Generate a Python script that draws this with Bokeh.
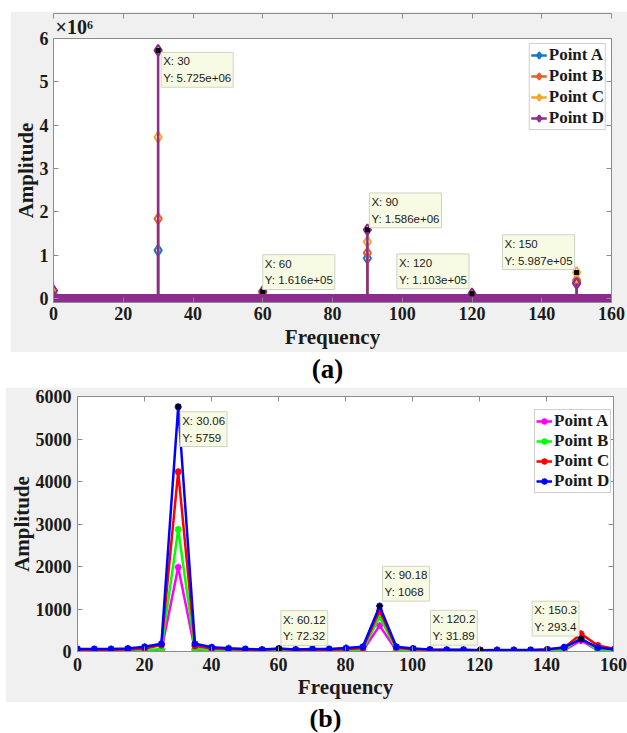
from bokeh.plotting import figure
from bokeh.models import (FixedTicker, LinearAxis, Legend, LegendItem, Label, Title,
                          CustomJSTickFormatter)
from bokeh.layouts import column
from bokeh.core.properties import value
from bokeh.embed import file_html
from bokeh.resources import INLINE

# ---------------- panel (a) data (amplitude in units of 1e6) ----------------
freq_a = [0, 30, 60, 90, 120, 150]
amp_a_A = [0.05, 1.11, 0.07, 0.93, 0.05, 0.37]
amp_a_B = [0.07, 1.84, 0.09, 1.05, 0.07, 0.42]
amp_a_C = [0.10, 3.72, 0.12, 1.31, 0.09, 0.5987]
amp_a_D = [0.18, 5.725, 0.1616, 1.586, 0.1103, 0.35]
band_a_freq = [0, 160]
band_a_amp = [0, 0]
tip_a_freq = [30, 60, 90, 120, 150]
tip_a_amp = [5.725, 0.1616, 1.586, 0.1103, 0.5987]
xticks_a = [0, 20, 40, 60, 80, 100, 120, 140, 160]
yticks_a = [0, 1, 2, 3, 4, 5, 6]

# ---------------- panel (b) data ----------------
freq_b = [0, 5.01, 10.02, 15.03, 20.04, 25.05, 30.06, 35.07, 40.08, 45.09, 50.1,
          55.11, 60.12, 65.13, 70.14, 75.15, 80.16, 85.17, 90.18, 95.19, 100.2,
          105.21, 110.22, 115.23, 120.24, 125.25, 130.26, 135.27, 140.28, 145.29,
          150.3, 155.31, 160.32]
amp_b_A = [10, 10, 10, 12, 15, 30, 1980, 30, 15, 12, 10, 10, 20, 10, 10, 10, 12,
           25, 610, 25, 12, 10, 10, 10, 12, 10, 10, 10, 12, 30, 260, 25, 15]
amp_b_B = [20, 20, 20, 25, 30, 60, 2870, 60, 30, 25, 20, 20, 30, 20, 20, 20, 25,
           40, 820, 50, 25, 20, 20, 20, 20, 20, 20, 20, 25, 40, 330, 20, 20]
amp_b_C = [40, 40, 40, 45, 70, 150, 4230, 130, 70, 55, 45, 40, 60, 40, 40, 40, 55,
           80, 960, 90, 55, 40, 35, 35, 30, 30, 30, 30, 45, 90, 415, 140, 60]
amp_b_D = [60, 60, 60, 70, 110, 180, 5759, 180, 100, 75, 60, 45, 72.32, 45, 60, 60, 80,
           110, 1068, 110, 70, 50, 40, 40, 31.89, 35, 35, 35, 50, 100, 293.4, 90, 50]
tip_b_idx = [6, 12, 18, 24, 30]
xticks_b = [0, 20, 40, 60, 80, 100, 120, 140, 160]
yticks_b = [0, 1000, 2000, 3000, 4000, 5000, 6000]

labels = ["Point A", "Point B", "Point C", "Point D"]
colors_a = ["#1677C4", "#EE5A24", "#F5A623", "#8B2C8E"]
colors_b = ["#FF00FF", "#00FF00", "#FF0000", "#0000FF"]

GRAY_BG = "#F0F0F0"
AXIS_C = "#8c8c8c"
SERIF = "Liberation Serif"
SANS = "Liberation Sans"


def style_axes(p, xticks, yticks, xstand, ystand):
    for ax in p.xaxis:
        ax.ticker = FixedTicker(ticks=xticks)
    for ax in p.yaxis:
        ax.ticker = FixedTicker(ticks=yticks)
    for ax in p.xaxis + p.yaxis:
        ax.axis_line_color = AXIS_C
        ax.major_tick_line_color = AXIS_C
        ax.major_tick_in = 5
        ax.major_tick_out = 0
        ax.minor_tick_line_color = None
        ax.major_label_text_font = SERIF
        ax.major_label_text_font_style = "bold"
        ax.major_label_text_font_size = "18px"
        ax.major_label_text_color = "#1a1a1a"
        ax.axis_label_text_font = SERIF
        ax.axis_label_text_font_style = "bold"
        ax.axis_label_text_font_size = "21px"
        ax.axis_label_text_color = "#1a1a1a"
    p.xaxis.major_label_standoff = xstand
    p.yaxis.major_label_standoff = ystand
    p.xaxis.axis_label = "Frequency"
    p.yaxis.axis_label = "Amplitude"
    p.xgrid.visible = False
    p.ygrid.visible = False
    p.outline_line_color = AXIS_C
    # box axes (top/right): ticks only, no labels
    blank = CustomJSTickFormatter(code="return ''")
    top = LinearAxis(ticker=FixedTicker(ticks=xticks), formatter=blank)
    right = LinearAxis(ticker=FixedTicker(ticks=yticks), formatter=blank)
    for ax in (top, right):
        ax.axis_line_color = AXIS_C
        ax.major_tick_line_color = AXIS_C
        ax.major_tick_in = 5
        ax.major_tick_out = 0
        ax.minor_tick_line_color = None
        ax.major_label_text_font_size = "1px"
        ax.major_label_standoff = 0
    p.add_layout(top, "above")
    p.add_layout(right, "right")
    p.frame_align = False


def tip(p, x, y, text, anchor, xo, yo):
    p.add_layout(Label(x=x, y=y, text=text, anchor=anchor, x_offset=xo, y_offset=yo,
                       text_font=SANS, text_font_size="11.5px", text_color="#1a1a1a",
                       text_line_height=1.4, background_fill_color="#F8FBE4",
                       border_line_color="#cfd2c0", border_line_width=1,
                       padding=(2, 3)))


def legend_for(items, location, margin=5):
    return Legend(items=items, location=location, margin=margin,
                  label_text_font=SERIF, label_text_font_style="bold",
                  label_text_font_size="17px", label_text_color="#1a1a1a",
                  glyph_width=16, glyph_height=18, label_height=18, label_standoff=2,
                  spacing=1, padding=1, border_line_color="#a0a0a0",
                  border_line_width=1, background_fill_color="white",
                  background_fill_alpha=1.0)


# ---------------- panel (a) ----------------
pa = figure(width=617, height=341, x_range=(0, 160), y_range=(-0.0923, 6),
            min_border_left=43, min_border_right=16, min_border_top=27,
            min_border_bottom=50, border_fill_color=GRAY_BG,
            background_fill_color="white", toolbar_location=None,
            output_backend="svg")
pa.margin = (11, 0, 0, 10)
pa.add_layout(Title(text="×10⁶", align="left", offset=2, standoff=1,
                    text_font=SERIF, text_font_size="20px", text_font_style="bold",
                    text_color="#1a1a1a"), "above")
style_axes(pa, xticks_a, yticks_a, 4, 5)
pa.xaxis.axis_label_standoff = 2
pa.yaxis.axis_label_standoff = -1

items_a = []
n_a = len(freq_a)
for lab, col, amps in zip(labels, colors_a, [amp_a_A, amp_a_B, amp_a_C, amp_a_D]):
    if lab == "Point D":
        pa.line(band_a_freq, band_a_amp, line_color=col, line_width=9)
    seg = pa.segment(x0=freq_a, y0=[0] * n_a, x1=freq_a, y1=amps,
                     line_color=col, line_width=2.5)
    sc = pa.scatter(freq_a, amps, marker="diamond", size=11, line_color=col,
                    line_width=2, fill_color="white", fill_alpha=0.0)
    items_a.append(LegendItem(label=lab, renderers=[seg, sc]))

pa.scatter(tip_a_freq, tip_a_amp, marker="square", size=4, color="black")

anchors_a = [("top_left", 3, -2), ("bottom_left", 0, 2), ("bottom_left", 2, 2),
             ("bottom_right", -3, 5), ("bottom_right", -2, 3)]
for f, a, (anc, xo, yo) in zip(tip_a_freq, tip_a_amp, anchors_a):
    tip(pa, f, a, f"X: {f:g}\nY: {a * 1e6:.3e}", anc, xo, yo)

pa.add_layout(legend_for(items_a, "top_right", 5))

# caption (a)
cap_a = figure(width=627, height=35, x_range=(0, 627), y_range=(0, 35),
               x_axis_type=None, y_axis_type=None, min_border=0,
               outline_line_color=None, toolbar_location=None, output_backend="svg")
cap_a.xgrid.visible = False
cap_a.ygrid.visible = False
cap_a.frame_align = False
cap_a.text(x=[327], y=[19], text=["(a)"], text_font=value(SERIF),
           text_font_style="bold", text_font_size="27px", text_align="center",
           text_baseline="middle", text_color="black")

# ---------------- panel (b) ----------------
pb = figure(width=622, height=315, x_range=(0, 160), y_range=(0, 6000),
            min_border_left=72, min_border_right=14, min_border_top=9,
            min_border_bottom=51, border_fill_color=GRAY_BG,
            background_fill_color="white", toolbar_location=None,
            output_backend="svg")
pb.margin = (0, 0, 0, 5)
style_axes(pb, xticks_b, yticks_b, 6, 6)
pb.xaxis.axis_label_standoff = 1
pb.yaxis.axis_label_standoff = -1

items_b = []
for lab, col, amps in zip(labels, colors_b, [amp_b_A, amp_b_B, amp_b_C, amp_b_D]):
    ln = pb.line(freq_b, amps, line_color=col, line_width=2.5)
    sc = pb.scatter(freq_b, amps, marker="asterisk", size=7, line_color=col,
                    line_width=2)
    items_b.append(LegendItem(label=lab, renderers=[ln, sc]))

tip_b_freq = [freq_b[i] for i in tip_b_idx]
tip_b_amp = [amp_b_D[i] for i in tip_b_idx]
pb.scatter(tip_b_freq, tip_b_amp, marker="square", size=4, color="black")
anchors_b = [("top_left", 2, -5), ("bottom_left", 2, 3), ("bottom_left", 3, 5),
             ("bottom_right", -3, 5), ("bottom_right", -2, 3)]
for f, a, (anc, xo, yo) in zip(tip_b_freq, tip_b_amp, anchors_b):
    tip(pb, f, a, f"X: {f:.4g}\nY: {a:.4g}", anc, xo, yo)

leg_b = legend_for(items_b, (457, 158), 0)
leg_b.spacing = 0
pb.add_layout(leg_b)

cap_b = figure(width=627, height=31, x_range=(0, 627), y_range=(0, 31),
               x_axis_type=None, y_axis_type=None, min_border=0,
               outline_line_color=None, toolbar_location=None, output_backend="svg")
cap_b.xgrid.visible = False
cap_b.ygrid.visible = False
cap_b.frame_align = False
cap_b.text(x=[325], y=[15.5], text=["(b)"], text_font=value(SERIF),
           text_font_style="bold", text_font_size="26px", text_align="center",
           text_baseline="middle", text_color="black")

layout = column(pa, cap_a, pb, cap_b, spacing=0)
open("out.html", "w").write(file_html(layout, INLINE))
